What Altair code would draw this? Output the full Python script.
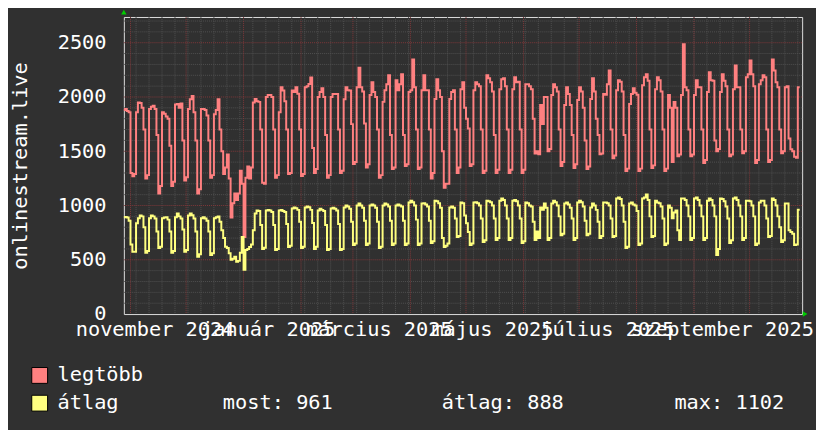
import altair as alt
import pandas as pd

# ---------------- data (daily values, Monday..Sunday per row) ----------------
first_day = "2024-10-28"
series_names = ["legtöbb", "átlag"]
series_colors = ["#ff8080", "#ffff80"]

legtobb = [
    1880, 1890, 1870, 1860, 1300, 1270, 1290,
    1860, 1950, 1945, 1900, 1700, 1250, 1280,
    1890, 1910, 1920, 1890, 1650, 1110, 1180,
    1860, 1845, 1820, 1800, 1550, 1180, 1220,
    1930, 1935, 1900, 1940, 1600, 1230, 1260,
    1890, 1980, 2010, 1860, 1600, 1110, 1150,
    1890, 1890, 1880, 1830, 1600, 1255, 1280,
    1840, 1880, 1980, 1700, 1500, 1290, 1350,
    1470, 1250, 890, 1020, 1110, 1050, 1110,
    1320, 1200, 709, 1255, 1360, 1250, 1350,
    1950, 1982, 1960, 1955, 1700, 1209, 1200,
    2000, 2018, 2018, 2000, 1700, 1255, 1280,
    1860, 2090, 2060, 1960, 1700, 1291, 1300,
    2060, 2045, 2090, 2030, 1700, 1273, 1290,
    2090, 2100, 2120, 2180, 1530, 1300, 1336,
    2000, 2045, 2080, 2000, 1650, 1255, 1280,
    2000, 2027, 2027, 2027, 1700, 1300, 1320,
    1980, 2090, 2063, 2060, 1750, 1382, 1400,
    2090, 2270, 2090, 2050, 1755, 1350, 1380,
    2018, 2136, 2045, 2000, 1700, 1255, 1280,
    1955, 2063, 2118, 2200, 1650, 1336, 1350,
    2154, 2063, 2118, 2209, 1650, 1364, 1380,
    2045, 2063, 2345, 2090, 1700, 1336, 1350,
    2063, 2200, 2063, 2063, 1700, 1250, 1300,
    1982, 2163, 2063, 2000, 1500, 1164, 1200,
    1200, 1982, 2045, 2063, 1700, 1300, 1350,
    2072, 2136, 1900, 1800, 1709, 1364, 1380,
    2063, 2136, 2118, 2100, 1700, 1300, 1320,
    2200, 2172, 2136, 2050, 1650, 1300, 1330,
    2072, 2163, 2172, 2100, 1700, 1300, 1330,
    2072, 2181, 2136, 2140, 1700, 1300, 1330,
    2118, 2118, 2100, 2072, 1800, 1480, 1500,
    1473, 1927, 1750, 2000, 2000, 1500, 1520,
    2018, 2118, 2090, 2050, 1700, 1364, 1400,
    1927, 2090, 2027, 1927, 1650, 1345, 1380,
    1972, 2090, 2050, 1900, 1600, 1336, 1360,
    1982, 2172, 2050, 1800, 1650, 1473, 1480,
    2027, 2020, 2118, 2245, 1700, 1436, 1460,
    2063, 2154, 2140, 2050, 1650, 1318, 1340,
    1936, 2027, 2081, 2040, 2020, 1318, 1340,
    2109, 2181, 2209, 2150, 1700, 1345, 1370,
    2072, 2181, 2154, 2050, 1700, 1318, 1340,
    2018, 1900, 1400, 1955, 1900, 1455, 1470,
    2018, 2485, 2090, 2063, 1700, 1455, 1470,
    2018, 2154, 2090, 2090, 1700, 1391, 1420,
    2045, 2227, 2154, 2150, 1600, 1500, 1520,
    2045, 2209, 2150, 2100, 1700, 1455, 1470,
    2072, 2290, 2090, 2090, 1700, 1482, 1500,
    2181, 2209, 2336, 2209, 2100, 1391, 1420,
    2118, 2154, 2200, 2181, 1700, 1400, 1420,
    2345, 2245, 2136, 2090, 1700, 1482, 1500,
    2090, 2100, 1618, 1518, 1500, 1450, 1440,
    2090,
]

atlag = [
    891, 895, 890, 860, 640, 575, 573,
    836, 882, 909, 900, 800, 564, 580,
    882, 909, 900, 880, 760, 609, 620,
    882, 890, 891, 870, 760, 564, 580,
    891, 927, 900, 880, 780, 573, 590,
    909, 927, 910, 880, 760, 527, 550,
    882, 891, 880, 860, 760, 545, 560,
    882, 891, 900, 850, 773, 700, 620,
    609, 560, 500, 510, 527, 482, 490,
    564, 709, 409, 591, 600, 618, 640,
    773, 927, 955, 950, 820, 600, 610,
    955, 960, 955, 940, 820, 591, 600,
    955, 960, 950, 940, 830, 618, 630,
    973, 982, 975, 960, 850, 609, 620,
    982, 990, 985, 960, 840, 600, 620,
    955, 970, 960, 950, 820, 591, 600,
    973, 980, 970, 955, 830, 591, 600,
    982, 1000, 990, 970, 850, 636, 650,
    1000, 1018, 1000, 980, 860, 636, 650,
    1000, 1010, 1000, 980, 850, 609, 620,
    1000, 1018, 1010, 990, 860, 636, 650,
    1000, 1010, 1000, 990, 860, 636, 650,
    1027, 1045, 1030, 1000, 870, 636, 650,
    1018, 1020, 1010, 990, 860, 655, 670,
    1045, 1040, 1020, 980, 700, 618, 630,
    650, 982, 990, 980, 880, 709, 720,
    1027, 1020, 909, 836, 755, 636, 650,
    1027, 1030, 1020, 1000, 880, 664, 680,
    1045, 1040, 1030, 1000, 880, 682, 700,
    1045, 1064, 1050, 1000, 880, 682, 700,
    1045, 1050, 1040, 1000, 880, 655, 670,
    1027, 1020, 1000, 990, 850, 682, 760,
    700, 982, 960, 1018, 980, 682, 700,
    1018, 1045, 1030, 1000, 900, 727, 740,
    1018, 1027, 1010, 980, 880, 682, 700,
    1027, 1045, 1030, 990, 860, 727, 740,
    982, 1018, 1000, 960, 850, 700, 720,
    1027, 1027, 1020, 1000, 880, 709, 720,
    1064, 1073, 1060, 1000, 850, 609, 620,
    1018, 1027, 1010, 1000, 950, 636, 650,
    1064, 1073, 1102, 1050, 900, 709, 720,
    1045, 1027, 1020, 990, 880, 636, 650,
    1000, 980, 882, 936, 955, 773, 682,
    1064, 1064, 1050, 1000, 900, 682, 700,
    1064, 1073, 1050, 1000, 900, 682, 700,
    1045, 1064, 1050, 1000, 900, 545, 600,
    1064, 1060, 1040, 990, 880, 655, 680,
    1064, 1073, 1050, 1000, 900, 682, 700,
    1045, 1045, 1040, 1000, 900, 636, 650,
    1027, 1045, 1045, 1000, 880, 709, 720,
    1064, 1050, 1000, 900, 800, 664, 680,
    1018, 1018, 773, 755, 740, 636, 640,
    961,
]

y_ticks = [0, 500, 1000, 1500, 2000, 2500]
x_label_days = ["2024-11-14", "2025-01-14", "2025-03-15", "2025-05-15", "2025-07-16", "2025-09-16"]
month_names = ["január", "február", "március", "április", "május", "június",
               "július", "augusztus", "szeptember", "október", "november", "december"]
stat_texts = ["most: 961", "átlag: 888", "max: 1102"]
y_title = "onlinestream.live"

# ---------------- tables ----------------
n = len(legtobb)
days = pd.date_range(first_day, periods=n + 1, freq="D").strftime("%Y-%m-%dT00:00:00Z").tolist()
df = pd.DataFrame({
    "date": days + days,
    "value": legtobb + [legtobb[-1]] + atlag + [atlag[-1]],
    "series": [series_names[0]] * (n + 1) + [series_names[1]] * (n + 1),
})

week_lines = pd.DataFrame({"date": pd.date_range("2024-11-04", "2025-10-27", freq="7D").strftime("%Y-%m-%dT00:00:00Z")})
month_lines = pd.DataFrame({"date": pd.date_range("2024-11-01", "2025-10-01", freq="MS").strftime("%Y-%m-%dT00:00:00Z")})
y_minor = pd.DataFrame({"value": [v for v in range(100, 2800, 100) if v % 500]})
y_major = pd.DataFrame({"value": [500, 1000, 1500, 2000, 2500]})


def utc(d, h=0):
    y, m, dd = [int(p) for p in d.split("-")]
    return alt.DateTime(year=y, month=m, date=dd, hours=h, utc=True)


x_scale = alt.Scale(type="utc", domain=[utc("2024-10-28", 10), utc("2025-10-29", 8)])
y_scale = alt.Scale(domain=[0, 2737], nice=False, zero=False)
color_scale = alt.Scale(domain=series_names, range=series_colors)

FONT = "DejaVu Sans Mono"
FS = 20.5
MINOR = "#505050"
MAJOR = "#80383a"

label_expr = ("[" + ",".join("'" + m + "'" for m in month_names) + "][utcmonth(datum.value)]"
              " + ' ' + utcyear(datum.value)")

x_axis = alt.Axis(values=[utc(d) for d in x_label_days], labelExpr=label_expr,
                  labelOverlap=False, labelFlush=False, labelBound=False, labelLimit=400,
                  ticks=False, domain=False, grid=False, title=None,
                  labelFont=FONT, labelFontSize=FS, labelColor="#ffffff",
                  labelPadding=6, labelBaseline="top")
y_axis = alt.Axis(values=y_ticks, format="d", ticks=False, domain=False, grid=False,
                  labelFont=FONT, labelFontSize=FS, labelColor="#ffffff",
                  labelPadding=18, title=y_title, titleFont=FONT,
                  titleFontSize=FS, titleFontWeight="normal", titleColor="#ffffff",
                  titlePadding=27)

X = alt.X("date:T", scale=x_scale, axis=x_axis)
Y = alt.Y("value:Q", scale=y_scale, axis=y_axis)

minor_x = alt.Chart(week_lines).mark_rule(color=MINOR, strokeWidth=1, strokeDash=[1, 1]).encode(x=X)
major_x = alt.Chart(month_lines).mark_rule(color=MAJOR, strokeWidth=1, strokeDash=[1, 1]).encode(x=X)
minor_y = alt.Chart(y_minor).mark_rule(color=MINOR, strokeWidth=1, strokeDash=[1, 1]).encode(y=Y)
major_y = alt.Chart(y_major).mark_rule(color=MAJOR, strokeWidth=1, strokeDash=[1, 1]).encode(y=Y)

lines = alt.Chart(df).mark_line(interpolate="step-after", strokeWidth=2, clip=True).encode(
    x=X, y=Y,
    stroke=alt.Stroke("series:N", scale=color_scale, legend=None),
    detail="series:N",
)

# legend rows (swatch + name); the second row also carries the GPRINT-style statistics
ROW0 = 362
ROW_STEP = 28
legend_layers = []
for i, name in enumerate(series_names):
    row = pd.DataFrame({"series": [name]})
    legend_layers.append(
        alt.Chart(row).mark_square(size=256, filled=True, stroke="#000000", strokeWidth=1, opacity=1).encode(
            x=alt.value(-85), y=alt.value(ROW0 + ROW_STEP * i),
            fill=alt.Fill("series:N", scale=color_scale, legend=None)))
    legend_layers.append(
        alt.Chart(row).mark_text(font=FONT, fontSize=FS, color="#ffffff", align="left",
                                 baseline="middle").encode(
            x=alt.value(-67), y=alt.value(ROW0 + ROW_STEP * i), text="series:N"))

for t, px in zip(stat_texts, [100, 321, 556]):
    legend_layers.append(
        alt.Chart().mark_text(text=t, font=FONT, fontSize=FS, color="#ffffff", align="left",
                              baseline="middle").encode(x=alt.value(px), y=alt.value(ROW0 + ROW_STEP)))

arrows = alt.layer(
    alt.Chart().mark_point(shape="triangle-up", filled=True, size=30, color="#00cc00", opacity=1).encode(
        x=alt.value(0), y=alt.value(-5)),
    alt.Chart().mark_point(shape="triangle-right", filled=True, size=30, color="#00cc00", opacity=1).encode(
        x=alt.value(688), y=alt.value(300)),
)

chart = alt.layer(minor_y, minor_x, major_y, major_x, lines, *legend_layers, arrows).properties(
    width=685, height=300,
    autosize=alt.AutoSizeParams(type="none"),
    padding={"left": 117, "top": 7, "right": 14, "bottom": 115},
    background="#303030",
).configure_view(fill="#222222", strokeWidth=0).configure(font=FONT)

chart.save("out.html", embed_options={"renderer": "svg", "actions": False})
